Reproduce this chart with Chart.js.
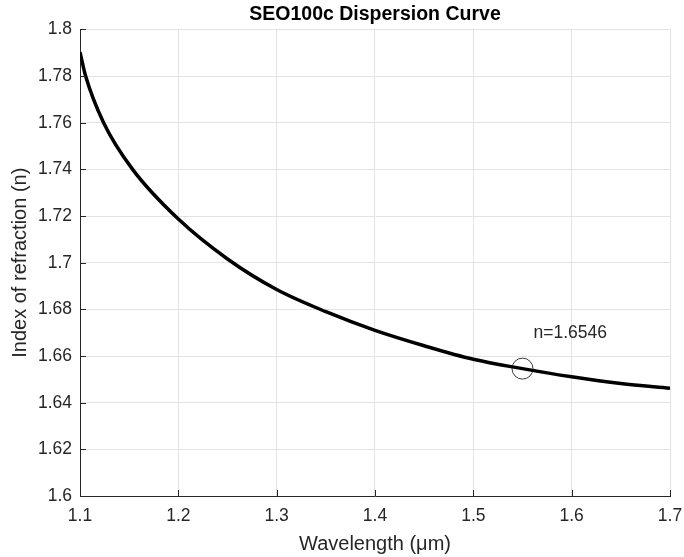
<!DOCTYPE html>
<html>
<head>
<meta charset="utf-8">
<title>SEO100c Dispersion Curve</title>
<script src="https://cdn.jsdelivr.net/npm/chart.js@4/dist/chart.umd.min.js"></script>
<style>
	html, body { margin: 0; padding: 0; background: #fff; }
	canvas { display: block; }
</style>
</head>
<body>
<canvas id="dispersion" width="684" height="557"></canvas>
<script>
// wavelength (um) and index of refraction
const wavelength = [1.1, 1.1057, 1.124, 1.1535, 1.2, 1.25, 1.3, 1.35, 1.4, 1.45, 1.5, 1.55, 1.6, 1.65, 1.7];
const nIndex = [1.7903, 1.78, 1.76, 1.74, 1.7187, 1.7016, 1.6885, 1.6790, 1.6710, 1.6644, 1.6586, 1.6546, 1.6511, 1.6482, 1.6462];
// marked point
const markWavelength = [1.55];
const markIndex = [1.6546];
const markLabel = ['n=1.6546'];
// tick labels
const xTicks = [1.1, 1.2, 1.3, 1.4, 1.5, 1.6, 1.7];
const yTicks = [1.6, 1.62, 1.64, 1.66, 1.68, 1.7, 1.72, 1.74, 1.76, 1.78, 1.8];

const FONT = "'Liberation Sans', Arial, Helvetica, sans-serif";
const AXIS_COLOR = '#262626';
const GRID_COLOR = '#e3e3e3';

/** inward tick marks + point label, matlab style **/
const matlabExtras = {
	id: 'matlabExtras',
	afterDraw(chart){
		const ctx = chart.ctx, xs = chart.scales.x, ys = chart.scales.y;
		const area = chart.chartArea;
		ctx.save();
		ctx.strokeStyle = AXIS_COLOR;
		ctx.lineWidth = 1;
		ctx.beginPath();
		xTicks.forEach(function(v){
			const px = Math.round(xs.getPixelForValue(v)) + 0.5;
			ctx.moveTo(px, area.bottom);
			ctx.lineTo(px, area.bottom - 6);
		});
		yTicks.forEach(function(v){
			const py = Math.round(ys.getPixelForValue(v)) + 0.5;
			ctx.moveTo(area.left, py);
			ctx.lineTo(area.left + 6, py);
		});
		ctx.stroke();

		ctx.fillStyle = AXIS_COLOR;
		ctx.font = '17.5px ' + FONT;
		ctx.textAlign = 'left';
		ctx.textBaseline = 'middle';
		markLabel.forEach(function(t, i){
			const px = xs.getPixelForValue(markWavelength[i]);
			const py = ys.getPixelForValue(markIndex[i]);
			ctx.fillText(t, px + 11, py - 35);
		});
		ctx.restore();
	}
};

const curve = wavelength.map(function(w, i){ return { x: w, y: nIndex[i] }; });
const mark = markWavelength.map(function(w, i){ return { x: w, y: markIndex[i] }; });

new Chart(document.getElementById('dispersion'), {
	type: 'line',
	data: {
		datasets: [{
			label: 'n',
			data: curve,
			borderColor: '#000',
			borderWidth: 3.5,
			pointRadius: 0,
			cubicInterpolationMode: 'monotone',
			fill: false
		},{
			label: 'mark',
			data: mark,
			showLine: false,
			pointStyle: 'circle',
			pointRadius: 10.5,
			pointBorderWidth: 1,
			pointBorderColor: '#3a3a3a',
			pointBackgroundColor: 'rgba(0,0,0,0)'
		}]
	},
	options: {
		responsive: false,
		animation: false,
		devicePixelRatio: 1,
		layout: { padding: { left: 0, right: 14, top: 0, bottom: 0 } },
		plugins: {
			legend: { display: false },
			tooltip: { enabled: false },
			title: {
				display: true,
				text: 'SEO100c Dispersion Curve',
				fullSize: false,
				color: '#000',
				font: { family: FONT, size: 19.5, weight: 'bold', lineHeight: 1.2 },
				padding: { top: 3, bottom: 3 }
			}
		},
		scales: {
			x: {
				type: 'linear',
				min: 1.1,
				max: 1.7,
				afterBuildTicks: function(s){ s.ticks = xTicks.map(function(v){ return { value: v }; }); },
				afterFit: function(s){
					s.height = 61;
					s.paddingLeft = 0;
					s.paddingRight = 0;
				},
				ticks: {
					color: AXIS_COLOR,
					padding: 10,
					maxRotation: 0,
					font: { family: FONT, size: 17.5 },
					callback: function(v){ return String(+v.toFixed(2)); }
				},
				grid: { color: GRID_COLOR, drawTicks: false },
				border: { display: true, color: AXIS_COLOR, width: 1 },
				title: {
					display: true,
					text: 'Wavelength (\u03bcm)',
					color: AXIS_COLOR,
					font: { family: FONT, size: 20, lineHeight: 1.2 },
					padding: { top: 0, bottom: 1 }
				}
			},
			y: {
				type: 'linear',
				min: 1.6,
				max: 1.8,
				afterBuildTicks: function(s){ s.ticks = yTicks.map(function(v){ return { value: v }; }); },
				afterFit: function(s){
					s.width = 80;
					s.paddingTop = 0;
					s.paddingBottom = 0;
				},
				ticks: {
					color: AXIS_COLOR,
					padding: 8,
					font: { family: FONT, size: 17.5 },
					callback: function(v){ return String(+v.toFixed(2)); }
				},
				grid: { color: GRID_COLOR, drawTicks: false },
				border: { display: true, color: AXIS_COLOR, width: 1 },
				title: {
					display: true,
					text: 'Index of refraction (n)',
					color: AXIS_COLOR,
					font: { family: FONT, size: 20, lineHeight: 1.2 },
					padding: { top: 8, bottom: 0 }
				}
			}
		}
	},
	plugins: [matlabExtras]
});
</script>
</body>
</html>
